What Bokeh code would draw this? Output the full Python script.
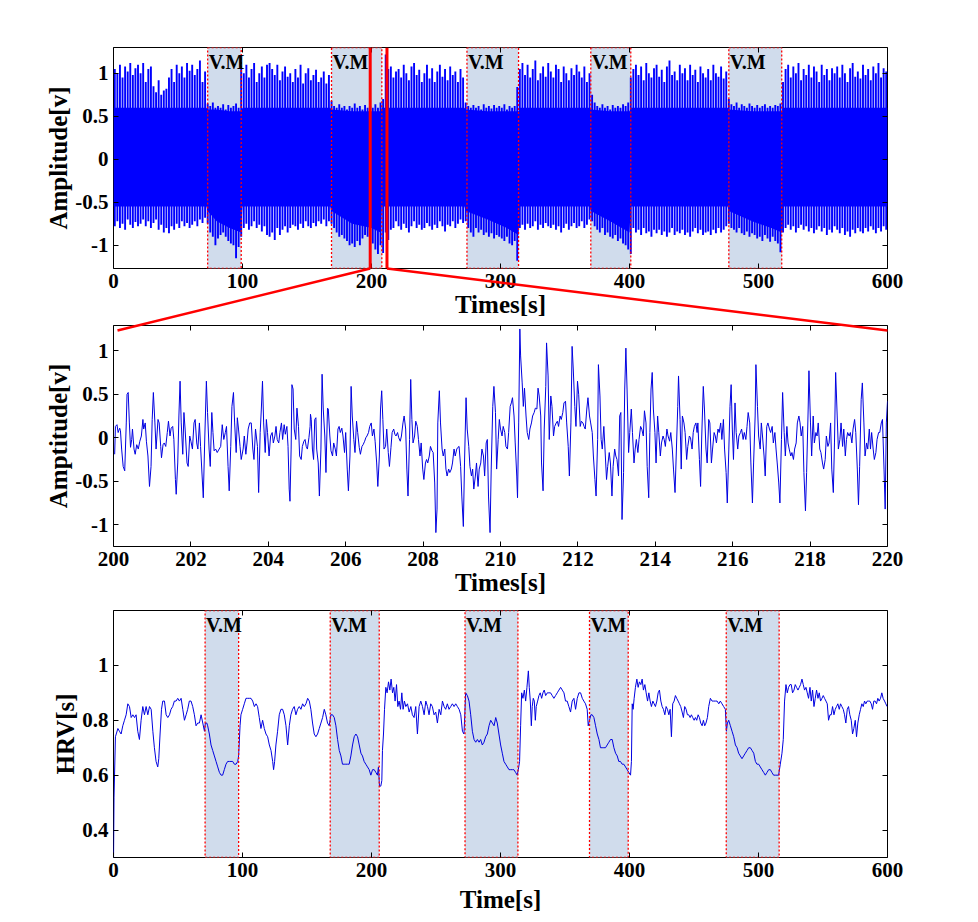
import numpy as np
from bokeh.plotting import figure
from bokeh.layouts import column
from bokeh.models import (FixedTicker, CustomJSTickFormatter, LinearAxis, Range1d, Span)
from bokeh.embed import file_html
from bokeh.resources import INLINE
from bokeh.core.properties import value

# ------------------------------------------------------------------ data
# Valsalva manoeuvre (V.M) intervals [s]
vm_start_ecg = [73, 169, 274, 370, 477]
vm_end_ecg = [99, 208, 314, 401, 518]
vm_start_hrv = [71, 168, 272.5, 369, 475]
vm_end_hrv = [97, 206, 313.5, 399, 516]
vm_label = ["V.M"] * 5

# zoomed window marked on the full recording [s]
zoom_window = [199, 212]

# full recording: one upper/lower peak read every 2 s
ecg_peak_hi = [
    1.05, 1.00, 1.10, 0.95, 1.08, 1.02, 1.12, 0.98, 1.06, 1.10,
    1.00, 1.12, 0.90, 1.05, 1.08, 0.85, 0.78, 0.92, 0.75, 0.80,
    0.82, 0.95, 1.05, 0.90, 1.10, 1.00, 1.08, 0.95, 1.12, 1.03,
    1.10, 0.98, 1.05, 1.15, 0.90, 1.02, 0.65, 0.62, 0.66, 0.60,
    0.62, 0.60, 0.64, 0.58, 0.63, 0.60, 0.62, 0.65, 0.60, 1.05,
    1.00, 1.10, 0.95, 1.05, 1.12, 0.90, 1.00, 1.08, 0.95, 1.10,
    1.12, 1.05, 0.98, 1.10, 0.92, 1.02, 1.08, 0.96, 1.00, 0.90,
    1.05, 0.95, 1.10, 0.88, 1.00, 1.06, 0.92, 0.98, 1.04, 0.90,
    0.95, 1.02, 0.88, 0.98, 0.68, 0.62, 0.60, 0.64, 0.60, 0.62,
    0.58, 0.62, 0.60, 0.65, 0.60, 0.62, 0.58, 0.63, 0.60, 0.62,
    0.60, 0.64, 0.60, 0.66, 0.70, 1.22, 1.05, 1.08, 0.95, 1.02,
    1.05, 0.95, 1.10, 1.00, 0.92, 1.08, 1.12, 0.98, 1.04, 0.90,
    1.00, 1.10, 0.94, 1.06, 0.90, 1.02, 1.10, 0.96, 1.05, 0.92,
    1.08, 0.98, 1.02, 0.90, 1.05, 0.95, 0.66, 0.62, 0.60, 0.63,
    0.60, 0.62, 0.58, 0.64, 0.60, 0.62, 0.59, 0.63, 0.60, 0.62,
    0.60, 0.64, 0.58, 0.62, 0.60, 0.62, 0.84, 1.05, 1.12, 0.98,
    1.10, 0.95, 1.05, 1.15, 0.92, 1.00, 1.08, 0.96, 1.12, 1.02,
    0.95, 1.10, 1.05, 0.90, 1.08, 1.00, 0.92, 1.06, 0.98, 1.10,
    1.02, 0.95, 1.08, 0.90, 1.00, 0.75, 0.66, 0.62, 0.60, 0.64,
    0.60, 0.62, 0.58, 0.63, 0.60, 0.62, 0.60, 0.64, 0.62, 0.66,
    0.95, 1.05, 1.10, 0.98, 1.08, 0.92, 1.12, 1.00, 0.95, 1.06,
    1.10, 0.96, 1.04, 0.90, 1.08, 1.15, 0.98, 1.02, 0.92, 1.10,
    1.00, 1.06, 0.92, 1.10, 0.98, 1.04, 0.90, 1.08, 1.00, 0.95,
    1.05, 0.92, 1.10, 1.00, 0.96, 1.08, 0.94, 1.02, 0.70, 0.64,
    0.62, 0.66, 0.60, 0.64, 0.62, 0.60, 0.65, 0.62, 0.60, 0.63,
    0.60, 0.62, 0.64, 0.60, 0.62, 0.60, 0.63, 0.62, 0.65, 0.90,
    1.05, 1.10, 0.95, 1.08, 1.00, 1.12, 0.92, 1.05, 0.98, 1.10,
    0.95, 1.08, 1.02, 0.90, 1.10, 0.98, 1.05, 0.92, 1.06, 1.00,
    1.08, 0.95, 1.10, 1.00, 0.90, 1.06, 1.12, 0.96, 1.02, 0.94,
    1.10, 0.98, 1.05, 0.92, 1.08, 1.00, 1.12, 0.95, 1.06, 1.02,
]
ecg_peak_lo = [
    -0.78, -0.72, -0.80, -0.75, -0.82, -0.70, -0.76, -0.80, -0.73, -0.78,
    -0.75, -0.70, -0.78, -0.72, -0.80, -0.74, -0.70, -0.82, -0.76, -0.85,
    -0.80, -0.86, -0.78, -0.82, -0.75, -0.80, -0.72, -0.78, -0.74, -0.80,
    -0.76, -0.72, -0.78, -0.70, -0.74, -0.68, -0.75, -0.85, -0.90, -1.00,
    -0.92, -0.88, -0.85, -0.90, -0.95, -0.98, -1.00, -1.15, -1.02, -0.90,
    -0.80, -0.75, -0.82, -0.78, -0.72, -0.80, -0.76, -0.84, -0.78, -0.88,
    -0.90, -0.85, -0.94, -0.80, -0.88, -0.82, -0.78, -0.85, -0.80, -0.76,
    -0.78, -0.82, -0.75, -0.80, -0.72, -0.78, -0.80, -0.74, -0.78, -0.72,
    -0.75, -0.70, -0.78, -0.72, -0.75, -0.80, -0.85, -0.90, -0.88, -0.92,
    -0.95, -1.00, -0.98, -1.02, -0.95, -1.00, -0.92, -0.88, -0.90, -0.94,
    -0.98, -1.05, -1.10, -1.00, -1.09, -0.85, -0.94, -0.82, -0.80, -0.72,
    -0.78, -0.82, -0.75, -0.80, -0.85, -0.78, -0.72, -0.80, -0.76, -0.82,
    -0.80, -0.74, -0.78, -0.82, -0.76, -0.80, -0.72, -0.78, -0.84, -0.76,
    -0.78, -0.72, -0.80, -0.75, -0.70, -0.74, -0.72, -0.80, -0.85, -0.90,
    -0.80, -0.85, -0.82, -0.88, -0.85, -0.90, -0.86, -0.92, -0.88, -0.90,
    -0.92, -0.95, -0.90, -0.98, -1.00, -0.95, -1.18, -0.80, -0.76, -0.82,
    -0.75, -0.80, -0.78, -0.72, -0.82, -0.76, -0.80, -0.74, -0.78, -0.80,
    -0.76, -0.82, -0.78, -0.85, -0.80, -0.75, -0.82, -0.78, -0.74, -0.80,
    -0.78, -0.72, -0.80, -0.76, -0.70, -0.72, -0.78, -0.82, -0.85, -0.80,
    -0.88, -0.85, -0.90, -0.92, -0.88, -0.95, -0.92, -0.98, -1.00, -1.05,
    -1.10, -0.80, -0.85, -0.82, -0.88, -0.80, -0.86, -0.84, -0.90, -0.82,
    -0.86, -0.82, -0.88, -0.84, -0.90, -0.85, -0.80, -0.88, -0.84, -0.86,
    -0.82, -0.88, -0.85, -0.90, -0.84, -0.80, -0.86, -0.82, -0.88, -0.85,
    -0.84, -0.88, -0.82, -0.86, -0.80, -0.85, -0.82, -0.78, -0.75, -0.80,
    -0.82, -0.85, -0.80, -0.86, -0.88, -0.84, -0.90, -0.86, -0.88, -0.92,
    -0.90, -0.95, -0.88, -0.92, -0.96, -0.90, -0.95, -0.98, -1.08, -0.85,
    -0.80, -0.76, -0.82, -0.78, -0.85, -0.80, -0.76, -0.82, -0.78, -0.84,
    -0.80, -0.86, -0.82, -0.78, -0.84, -0.80, -0.88, -0.82, -0.85, -0.78,
    -0.82, -0.86, -0.80, -0.88, -0.84, -0.90, -0.82, -0.86, -0.80, -0.84,
    -0.86, -0.80, -0.84, -0.78, -0.82, -0.86, -0.80, -0.84, -0.78, -0.82,
]
ecg_peak_t = np.arange(1, 600, 2)  # sample instants of the peak lists

# dense core of the full recording (envelope)
band_t = [0, 72, 73, 80, 90, 99, 100, 168, 169, 185, 200, 207, 208, 272, 273, 290,
          305, 314, 315, 369, 370, 385, 400, 401, 476, 477, 495, 510, 518, 519, 600]
band_hi = [0.60, 0.60, 0.58, 0.58, 0.56, 0.56, 0.60, 0.60, 0.58, 0.56, 0.56, 0.56,
           0.60, 0.60, 0.58, 0.56, 0.56, 0.56, 0.60, 0.60, 0.58, 0.56, 0.56, 0.60,
           0.60, 0.58, 0.56, 0.56, 0.56, 0.60, 0.60]
band_lo = [-0.55, -0.55, -0.60, -0.72, -0.80, -0.85, -0.55, -0.55, -0.60, -0.75,
           -0.80, -0.85, -0.55, -0.55, -0.60, -0.70, -0.80, -0.88, -0.55, -0.55,
           -0.60, -0.72, -0.85, -0.55, -0.55, -0.60, -0.72, -0.80, -0.85, -0.55, -0.55]

# zoomed segment 200-220 s: (time [s], amplitude [v])
mid_signal = [
    (200.03, -0.19), (200.05, 0.13), (200.09, 0.15), (200.12, 0.06), (200.16, 0.11), (200.18, 0.08),
    (200.21, -0.13), (200.25, -0.33), (200.29, -0.38), (200.33, 0.17), (200.35, 0.50), (200.38, 0.52),
    (200.41, 0.17), (200.44, -0.11), (200.47, -0.02), (200.49, 0.10), (200.53, -0.13), (200.56, -0.19),
    (200.60, -0.08), (200.64, -0.13), (200.68, -0.04), (200.72, 0.02), (200.76, 0.21), (200.78, 0.10),
    (200.82, 0.17), (200.85, -0.04), (200.89, -0.21), (200.93, -0.56), (200.97, -0.33), (201.00, 0.21),
    (201.03, 0.52), (201.07, 0.17), (201.10, -0.13), (201.15, 0.21), (201.18, 0.17), (201.22, -0.10),
    (201.24, -0.23), (201.28, -0.08), (201.31, -0.06), (201.35, -0.10), (201.39, 0.06), (201.42, 0.19),
    (201.46, 0.02), (201.49, 0.11), (201.53, 0.13), (201.56, -0.02), (201.60, -0.48), (201.62, -0.65),
    (201.66, -0.29), (201.69, 0.25), (201.72, 0.65), (201.75, 0.17), (201.79, -0.19), (201.82, 0.29),
    (201.85, 0.10), (201.90, -0.29), (201.93, -0.33), (201.97, 0.02), (202.00, -0.04), (202.04, -0.13),
    (202.08, 0.17), (202.11, 0.21), (202.15, -0.06), (202.18, -0.13), (202.22, 0.17), (202.25, -0.10),
    (202.29, -0.44), (202.32, -0.69), (202.36, 0.02), (202.40, 0.65), (202.43, 0.29), (202.47, -0.13),
    (202.50, -0.33), (202.54, 0.29), (202.57, 0.06), (202.60, -0.15), (202.64, -0.13), (202.68, -0.17),
    (202.73, -0.13), (202.77, -0.10), (202.81, 0.15), (202.85, -0.02), (202.89, 0.06), (202.92, 0.13),
    (202.96, -0.33), (202.99, -0.61), (203.03, -0.10), (203.06, 0.36), (203.10, 0.52), (203.13, 0.17),
    (203.17, -0.17), (203.20, 0.23), (203.23, 0.10), (203.27, -0.10), (203.30, -0.25), (203.35, -0.13),
    (203.38, 0.02), (203.42, -0.19), (203.45, -0.06), (203.48, 0.10), (203.52, 0.17), (203.56, 0.17),
    (203.60, -0.13), (203.63, -0.25), (203.67, 0.10), (203.72, -0.10), (203.75, -0.63), (203.79, 0.06),
    (203.82, 0.33), (203.85, 0.65), (203.88, 0.17), (203.92, -0.17), (203.95, 0.21), (203.98, 0.06),
    (204.02, -0.21), (204.06, 0.02), (204.10, 0.06), (204.13, -0.06), (204.17, 0.02), (204.20, 0.13),
    (204.23, -0.02), (204.27, -0.06), (204.30, 0.06), (204.34, 0.17), (204.37, -0.02), (204.41, 0.15),
    (204.44, 0.04), (204.48, 0.13), (204.51, -0.10), (204.54, -0.59), (204.56, -0.73), (204.59, -0.13),
    (204.61, 0.61), (204.64, 0.56), (204.67, 0.10), (204.71, -0.02), (204.74, 0.34), (204.78, 0.13),
    (204.81, -0.21), (204.85, -0.25), (204.88, -0.10), (204.92, -0.04), (204.95, -0.02), (204.98, -0.10),
    (205.01, -0.13), (205.05, 0.00), (205.08, 0.13),
    (205.09, 0.27), (205.11, 0.21), (205.14, -0.13), (205.17, -0.25), (205.20, 0.21), (205.23, 0.23),
    (205.25, -0.13), (205.29, -0.29), (205.32, -0.67), (205.36, -0.13), (205.39, 0.73), (205.42, 0.33),
    (205.46, 0.02), (205.49, -0.40), (205.53, 0.34), (205.55, 0.33), (205.59, 0.02), (205.62, -0.15),
    (205.66, -0.21), (205.69, -0.06), (205.73, -0.13), (205.76, -0.21), (205.80, 0.10), (205.83, 0.13),
    (205.86, 0.06), (205.90, 0.11), (205.93, 0.02), (205.97, -0.17), (206.00, 0.06), (206.04, -0.36),
    (206.07, -0.61), (206.11, -0.21), (206.14, 0.59), (206.17, 0.25), (206.21, -0.02), (206.24, -0.17),
    (206.28, 0.19), (206.31, 0.06), (206.35, -0.11), (206.38, -0.19), (206.42, -0.10), (206.45, -0.08),
    (206.49, -0.04), (206.52, 0.00), (206.55, 0.02), (206.59, 0.06), (206.62, 0.13), (206.66, 0.17),
    (206.69, 0.02), (206.73, 0.10), (206.76, -0.04), (206.80, -0.29), (206.83, -0.56), (206.87, -0.21),
    (206.90, 0.33), (206.93, 0.54), (206.96, 0.21), (206.99, -0.13), (207.03, -0.10), (207.06, 0.10),
    (207.10, -0.17), (207.13, -0.33), (207.17, -0.11), (207.20, 0.06), (207.24, 0.10), (207.27, 0.04),
    (207.30, 0.02), (207.34, 0.06), (207.37, 0.00), (207.41, -0.04), (207.44, 0.02), (207.48, 0.17),
    (207.51, 0.25), (207.55, 0.10), (207.58, -0.36), (207.61, -0.67), (207.65, -0.02), (207.68, 0.67),
    (207.71, 0.21), (207.74, -0.06), (207.78, 0.02), (207.81, 0.19), (207.85, 0.13), (207.88, -0.02),
    (207.92, -0.21), (207.95, -0.06), (207.99, -0.36), (208.02, -0.48), (208.06, -0.29), (208.09, -0.25),
    (208.12, -0.29), (208.16, -0.21), (208.19, -0.10), (208.23, -0.15), (208.26, -0.17), (208.30, -0.52),
    (208.33, -1.09), (208.36, -0.82), (208.38, 0.17), (208.42, 0.54), (208.45, 0.17), (208.49, -0.13),
    (208.52, -0.21), (208.56, -0.13), (208.59, -0.36), (208.62, -0.44), (208.66, -0.36), (208.69, -0.40),
    (208.73, -0.36), (208.76, -0.29), (208.80, -0.13), (208.83, -0.21), (208.87, -0.13), (208.90, -0.11),
    (208.93, -0.10), (208.97, -0.33), (209.00, -0.67), (209.04, -1.02), (209.07, -0.29), (209.11, 0.46),
    (209.14, 0.10), (209.18, -0.10), (209.21, -0.33), (209.25, -0.44), (209.28, -0.36), (209.31, -0.59),
    (209.35, -0.44), (209.38, -0.29), (209.42, -0.56), (209.45, -0.36), (209.49, -0.29), (209.52, -0.13),
    (209.56, -0.21), (209.59, -0.44), (209.63, -0.06), (209.66, -0.02), (209.69, -0.67), (209.73, -1.09),
    (209.76, -0.36), (209.80, 0.36), (209.83, 0.59), (209.87, 0.29), (209.90, -0.36), (209.94, -0.02),
    (209.97, 0.21), (210.00, 0.10), (210.04, 0.02), (210.07, 0.13),
    (210.11, 0.06), (210.14, -0.10), (210.18, -0.13), (210.21, 0.06), (210.25, 0.36), (210.28, 0.40),
    (210.31, 0.46), (210.35, 0.25), (210.38, -0.06), (210.42, -0.44), (210.44, -0.69), (210.47, 0.17),
    (210.50, 1.25), (210.52, 0.94), (210.56, 0.63), (210.59, 0.36), (210.62, 0.57), (210.66, 0.25),
    (210.69, 0.06), (210.73, -0.02), (210.76, 0.10), (210.80, 0.17), (210.83, 0.25), (210.87, 0.29),
    (210.90, 0.34), (210.94, 0.33), (210.97, 0.57), (211.00, 0.48), (211.04, 0.25), (211.06, -0.29),
    (211.10, -0.61), (211.13, 0.10), (211.17, 0.59), (211.19, 1.09), (211.23, 0.71), (211.26, -0.02),
    (211.30, 0.48), (211.33, 0.36), (211.37, 0.02), (211.40, 0.13), (211.44, 0.17), (211.47, 0.19),
    (211.50, 0.13), (211.54, 0.25), (211.57, 0.21), (211.61, 0.29), (211.64, 0.40), (211.68, 0.42),
    (211.71, 0.17), (211.75, -0.10), (211.78, -0.44), (211.82, 0.17), (211.85, 1.05), (211.88, 0.79),
    (211.92, 0.36), (211.95, 0.13), (211.99, 0.65), (212.02, 0.50), (212.06, 0.13), (212.09, 0.19),
    (212.13, 0.17), (212.16, 0.13), (212.19, 0.10), (212.23, 0.33), (212.26, 0.46), (212.30, 0.25),
    (212.33, 0.17), (212.37, 0.06), (212.40, -0.21), (212.44, -0.48), (212.47, -0.67), (212.51, -0.02),
    (212.53, 0.84), (212.57, 0.48), (212.60, -0.02), (212.63, -0.13), (212.67, 0.13), (212.70, -0.13),
    (212.74, -0.48), (212.77, -0.33), (212.81, -0.17), (212.84, -0.29), (212.88, -0.67), (212.91, -0.33),
    (212.95, -0.13), (212.98, -0.21), (213.01, -0.25), (213.05, -0.44), (213.08, 0.25), (213.11, 0.29),
    (213.14, -0.94), (213.18, -0.40), (213.21, 0.56), (213.24, 1.03), (213.27, 0.56), (213.31, -0.17),
    (213.34, 0.06), (213.38, 0.33), (213.41, 0.06), (213.45, -0.29), (213.48, -0.13), (213.51, -0.02),
    (213.55, -0.17), (213.58, -0.02), (213.62, 0.13), (213.65, 0.10), (213.69, 0.02), (213.72, 0.31),
    (213.76, 0.17), (213.79, -0.33), (213.83, -0.69), (213.86, 0.06), (213.89, 0.56), (213.92, 0.75),
    (213.95, 0.33), (213.99, 0.06), (214.02, -0.29), (214.06, 0.25), (214.09, 0.06), (214.13, -0.21),
    (214.16, -0.06), (214.20, 0.02), (214.23, -0.02), (214.26, -0.10), (214.30, 0.10), (214.33, 0.02),
    (214.37, -0.04), (214.40, 0.06), (214.44, -0.13), (214.47, -0.36), (214.51, -0.63), (214.54, -0.21),
    (214.58, 0.36), (214.60, 0.71), (214.64, 0.21), (214.67, -0.36), (214.70, 0.25), (214.74, 0.17),
    (214.77, 0.06), (214.81, -0.25), (214.84, -0.10), (214.88, 0.02), (214.91, 0.00), (214.95, -0.13),
    (214.98, 0.06), (215.01, 0.13), (215.05, 0.17), (215.08, 0.06),
    (215.10, 0.17), (215.14, -0.25), (215.17, -0.56), (215.20, 0.02), (215.24, 0.59), (215.27, 0.33),
    (215.31, -0.13), (215.34, -0.29), (215.38, 0.21), (215.41, 0.17), (215.45, -0.29), (215.48, -0.13),
    (215.52, 0.06), (215.55, 0.02), (215.58, -0.06), (215.62, 0.10), (215.65, 0.06), (215.69, 0.17),
    (215.72, -0.02), (215.76, 0.21), (215.79, -0.13), (215.83, -0.40), (215.86, -0.75), (215.90, -0.13),
    (215.93, 0.36), (215.96, 0.61), (215.99, 0.10), (216.02, -0.25), (216.06, 0.40), (216.09, 0.06),
    (216.13, -0.13), (216.16, 0.02), (216.20, 0.06), (216.23, 0.10), (216.27, -0.02), (216.30, 0.06),
    (216.34, -0.02), (216.37, 0.13), (216.40, 0.29), (216.44, 0.17), (216.47, -0.29), (216.51, -0.75),
    (216.54, -0.29), (216.58, 0.25), (216.60, 0.84), (216.64, 0.36), (216.67, 0.02), (216.71, -0.13),
    (216.74, 0.17), (216.77, 0.02), (216.81, -0.21), (216.84, -0.44), (216.88, 0.13), (216.91, 0.17),
    (216.95, 0.10), (216.98, 0.06), (217.02, 0.13), (217.05, -0.06), (217.09, 0.06), (217.12, -0.13),
    (217.15, -0.29), (217.19, -0.52), (217.22, -0.75), (217.26, -0.02), (217.29, 0.52), (217.33, 0.06),
    (217.36, -0.21), (217.40, 0.13), (217.43, -0.06), (217.46, -0.13), (217.50, -0.21), (217.53, -0.17),
    (217.57, -0.25), (217.60, -0.13), (217.64, -0.06), (217.67, 0.17), (217.71, 0.25), (217.74, 0.17),
    (217.77, 0.02), (217.81, 0.13), (217.84, -0.40), (217.88, -0.84), (217.91, -0.40), (217.95, 0.33),
    (217.97, 0.77), (218.01, 0.17), (218.04, -0.21), (218.08, 0.25), (218.11, -0.06), (218.15, 0.06),
    (218.18, 0.02), (218.21, 0.17), (218.25, -0.13), (218.28, -0.17), (218.32, -0.29), (218.35, -0.36),
    (218.39, -0.25), (218.42, 0.02), (218.46, -0.10), (218.49, -0.06), (218.53, 0.17), (218.56, -0.36),
    (218.60, -0.63), (218.63, -0.06), (218.66, 0.75), (218.70, 0.25), (218.73, -0.13), (218.77, -0.02),
    (218.80, 0.17), (218.84, -0.10), (218.87, 0.10), (218.91, -0.21), (218.94, -0.02), (218.97, 0.06),
    (219.01, 0.02), (219.04, 0.06), (219.08, -0.06), (219.11, 0.10), (219.15, 0.21), (219.18, 0.06),
    (219.22, -0.36), (219.25, -0.77), (219.28, -0.33), (219.32, 0.44), (219.35, 0.63), (219.39, 0.17),
    (219.42, -0.21), (219.46, -0.06), (219.49, -0.13), (219.53, 0.10), (219.56, -0.13), (219.59, 0.06),
    (219.63, -0.13), (219.66, -0.25), (219.70, -0.17), (219.73, -0.02), (219.77, 0.06), (219.80, 0.06),
    (219.84, 0.17), (219.87, 0.21), (219.91, -0.36), (219.94, -0.82), (219.97, 0.17), (220.00, 0.42),
]

# heart-rate variability: (time [s], RR interval [s])
hrv_series = [
    (0.0, 0.28), (0.4, 0.52), (1.5, 0.74), (3.4, 0.77), (4.6, 0.76), (5.9, 0.75), (7.2, 0.78),
    (8.5, 0.80), (9.8, 0.82), (11.1, 0.86), (12.4, 0.85), (13.7, 0.81), (15.0, 0.82), (16.3, 0.81),
    (17.5, 0.82), (18.8, 0.76), (20.1, 0.73), (21.4, 0.80), (22.7, 0.85), (24.0, 0.82), (25.3, 0.85),
    (26.6, 0.82), (27.9, 0.85), (29.2, 0.84), (30.5, 0.76), (31.7, 0.70), (33.0, 0.65), (34.3, 0.63),
    (35.1, 0.66), (36.1, 0.75), (37.2, 0.84), (38.2, 0.87), (39.5, 0.87), (40.8, 0.82), (42.1, 0.81),
    (43.4, 0.82), (44.6, 0.84), (45.9, 0.85), (47.2, 0.87), (48.5, 0.87), (49.8, 0.88), (51.1, 0.87),
    (52.4, 0.88), (53.7, 0.84), (55.0, 0.80), (56.3, 0.82), (57.5, 0.84), (58.8, 0.87), (60.1, 0.87),
    (61.4, 0.85), (62.7, 0.82), (64.0, 0.78), (65.3, 0.79), (66.6, 0.79), (67.9, 0.82), (69.2, 0.79),
    (70.5, 0.76), (71.2, 0.79), (72.3, 0.79), (73.0, 0.78), (74.3, 0.75), (75.6, 0.71), (76.9, 0.69),
    (78.2, 0.67), (79.5, 0.65), (80.8, 0.63), (82.1, 0.61), (83.4, 0.60), (84.6, 0.60), (85.9, 0.62),
    (87.2, 0.64), (88.5, 0.65), (89.8, 0.65), (91.1, 0.65), (92.4, 0.65), (93.7, 0.64), (95.0, 0.64),
    (96.3, 0.65), (97.0, 0.67), (98.1, 0.78), (98.8, 0.82), (100.1, 0.84), (101.4, 0.86), (102.7, 0.88),
    (104.0, 0.88), (105.3, 0.88), (106.6, 0.88), (107.9, 0.87), (109.2, 0.85), (110.5, 0.86), (111.7, 0.85),
    (113.0, 0.81), (114.3, 0.77), (115.6, 0.80), (116.9, 0.77), (118.2, 0.75), (119.5, 0.74), (120.8, 0.71),
    (122.1, 0.69), (123.4, 0.65), (124.1, 0.62), (124.9, 0.65), (125.9, 0.71), (127.2, 0.76), (128.5, 0.82),
    (129.8, 0.84), (131.1, 0.84), (132.4, 0.82), (133.7, 0.78), (135.0, 0.71), (136.3, 0.78), (137.5, 0.82),
    (138.8, 0.84), (140.1, 0.85), (141.4, 0.82), (142.7, 0.84), (144.0, 0.85), (145.3, 0.84), (146.6, 0.86),
    (147.9, 0.85), (149.2, 0.86), (150.5, 0.88), (151.8, 0.87), (153.0, 0.84), (154.3, 0.79), (155.6, 0.75),
    (156.9, 0.74), (158.2, 0.75), (159.5, 0.77), (160.8, 0.79), (162.1, 0.81), (163.4, 0.84), (164.6, 0.82),
    (165.9, 0.79), (167.2, 0.78), (168.5, 0.82), (169.8, 0.82), (171.1, 0.81), (172.4, 0.78), (173.7, 0.73),
    (175.0, 0.69), (176.3, 0.67), (177.5, 0.64), (178.8, 0.64), (180.1, 0.64), (181.4, 0.64), (182.7, 0.64),
    (184.0, 0.67), (185.3, 0.71), (186.6, 0.74), (187.9, 0.75), (189.2, 0.74), (190.5, 0.71), (191.8, 0.68),
    (193.0, 0.67), (194.3, 0.65), (195.6, 0.64), (196.9, 0.63), (198.2, 0.62), (199.5, 0.60), (200.8, 0.62),
    (202.1, 0.62), (203.4, 0.61), (204.6, 0.60), (205.4, 0.63), (206.2, 0.56), (207.2, 0.56), (208.0, 0.58),
    (208.5, 0.69), (209.3, 0.75), (210.1, 0.84), (211.1, 0.92), (212.1, 0.90), (213.2, 0.94), (214.2, 0.91),
    (215.2, 0.95), (216.3, 0.90), (217.3, 0.92), (218.3, 0.87), (219.4, 0.93), (220.4, 0.85), (221.4, 0.87),
    (222.5, 0.84), (223.5, 0.90), (224.5, 0.84), (225.5, 0.87), (226.6, 0.85), (227.9, 0.86), (229.2, 0.83),
    (230.5, 0.85), (231.7, 0.82), (233.0, 0.81), (234.3, 0.85), (235.6, 0.75), (236.9, 0.85), (238.2, 0.87),
    (239.5, 0.85), (240.8, 0.82), (242.1, 0.87), (243.4, 0.85), (244.6, 0.82), (245.9, 0.86), (247.2, 0.85),
    (248.5, 0.82), (249.8, 0.83), (251.1, 0.79), (252.4, 0.84), (253.7, 0.82), (255.0, 0.87), (256.3, 0.85),
    (257.5, 0.84), (258.8, 0.86), (260.1, 0.84), (261.4, 0.85), (262.7, 0.86), (264.0, 0.85), (265.3, 0.86),
    (266.6, 0.85), (267.9, 0.84), (269.2, 0.82), (270.5, 0.76), (271.7, 0.75), (273.0, 0.90), (274.3, 0.89),
    (275.6, 0.87), (276.9, 0.82), (278.2, 0.76), (279.5, 0.73), (280.8, 0.72), (282.1, 0.73), (283.4, 0.72),
    (284.6, 0.73), (285.9, 0.71), (287.2, 0.72), (288.5, 0.74), (289.8, 0.75), (291.1, 0.78), (292.4, 0.80),
    (293.7, 0.79), (295.0, 0.78), (296.3, 0.81), (297.5, 0.79), (298.8, 0.75), (300.1, 0.71), (301.4, 0.68),
    (302.7, 0.65), (304.0, 0.64), (305.3, 0.63), (306.6, 0.62), (307.9, 0.62), (309.2, 0.62), (310.4, 0.62),
    (311.7, 0.61), (313.0, 0.60), (313.8, 0.62), (314.8, 0.65), (315.6, 0.78), (316.4, 0.90), (317.4, 0.88),
    (318.5, 0.91), (319.5, 0.87), (320.5, 0.92), (321.6, 0.98), (322.3, 0.92), (323.1, 0.87), (323.9, 0.78),
    (324.6, 0.85), (325.4, 0.88), (326.2, 0.87), (327.0, 0.80), (327.7, 0.85), (328.8, 0.87), (329.8, 0.89),
    (330.8, 0.90), (331.9, 0.88), (332.9, 0.90), (333.9, 0.91), (335.0, 0.89), (336.3, 0.90), (337.5, 0.90),
    (338.8, 0.90), (340.1, 0.89), (341.4, 0.88), (342.7, 0.89), (344.0, 0.90), (345.3, 0.91), (346.6, 0.92),
    (347.9, 0.91), (349.2, 0.90), (350.4, 0.87), (351.7, 0.87), (353.0, 0.85), (354.3, 0.83), (355.6, 0.87),
    (356.9, 0.88), (358.2, 0.84), (359.5, 0.88), (360.8, 0.90), (362.1, 0.90), (363.4, 0.88), (364.6, 0.87),
    (365.9, 0.86), (367.2, 0.84), (368.0, 0.78), (369.0, 0.80), (370.1, 0.82), (371.1, 0.82), (372.4, 0.81),
    (373.7, 0.78), (375.0, 0.75), (376.3, 0.73), (377.5, 0.70), (378.8, 0.70), (380.1, 0.70), (381.4, 0.70),
    (382.7, 0.71), (384.0, 0.72), (385.3, 0.73), (386.6, 0.73), (387.9, 0.70), (389.2, 0.68), (390.5, 0.67),
    (391.7, 0.65), (393.0, 0.65), (394.3, 0.64), (395.6, 0.64), (396.9, 0.63), (398.2, 0.62), (399.5, 0.61),
    (400.8, 0.60), (401.5, 0.65), (402.1, 0.86), (402.8, 0.84), (403.6, 0.88), (404.6, 0.92), (405.7, 0.95),
    (406.7, 0.92), (407.7, 0.94), (408.8, 0.93), (409.8, 0.95), (410.8, 0.91), (411.9, 0.93), (412.9, 0.90),
    (414.0, 0.87), (415.0, 0.90), (416.0, 0.87), (417.0, 0.85), (418.1, 0.87), (419.1, 0.86), (420.1, 0.85),
    (421.2, 0.87), (422.2, 0.90), (423.2, 0.91), (424.3, 0.87), (425.3, 0.85), (426.3, 0.84), (427.4, 0.82),
    (428.4, 0.85), (429.4, 0.84), (430.5, 0.82), (431.5, 0.84), (432.5, 0.74), (433.5, 0.86), (434.6, 0.87),
    (435.6, 0.89), (436.6, 0.88), (437.7, 0.87), (438.7, 0.86), (439.7, 0.85), (440.8, 0.83), (441.8, 0.81),
    (442.8, 0.85), (443.9, 0.84), (444.9, 0.82), (445.9, 0.82), (447.0, 0.81), (448.0, 0.82), (449.0, 0.81),
    (450.1, 0.80), (451.1, 0.81), (452.1, 0.80), (453.2, 0.82), (454.2, 0.81), (455.2, 0.79), (456.3, 0.78),
    (457.3, 0.80), (458.3, 0.78), (459.3, 0.79), (460.4, 0.81), (461.4, 0.85), (462.7, 0.88), (464.0, 0.87),
    (465.3, 0.87), (466.6, 0.87), (467.9, 0.87), (469.2, 0.86), (470.4, 0.87), (471.7, 0.86), (473.0, 0.85),
    (474.3, 0.84), (475.1, 0.76), (475.9, 0.79), (476.9, 0.80), (478.2, 0.78), (479.5, 0.76), (480.8, 0.74),
    (482.1, 0.71), (483.4, 0.70), (484.6, 0.68), (485.9, 0.67), (487.2, 0.66), (488.5, 0.67), (489.8, 0.68),
    (491.1, 0.69), (492.4, 0.70), (493.7, 0.70), (495.0, 0.69), (496.3, 0.68), (497.6, 0.65), (498.8, 0.64),
    (500.1, 0.64), (501.4, 0.63), (502.7, 0.62), (504.0, 0.61), (505.3, 0.60), (506.6, 0.61), (507.9, 0.62),
    (509.2, 0.62), (510.4, 0.61), (511.7, 0.60), (513.0, 0.60), (514.3, 0.60), (515.6, 0.60), (516.9, 0.64),
    (518.2, 0.68), (519.2, 0.73), (520.2, 0.87), (521.3, 0.93), (522.3, 0.90), (523.3, 0.92), (524.4, 0.93),
    (525.4, 0.93), (526.4, 0.90), (527.5, 0.91), (528.5, 0.93), (529.5, 0.92), (530.6, 0.91), (531.6, 0.92),
    (532.6, 0.93), (533.7, 0.95), (534.7, 0.93), (535.7, 0.91), (536.8, 0.92), (537.8, 0.90), (538.8, 0.88),
    (539.9, 0.92), (540.9, 0.87), (541.9, 0.91), (543.0, 0.85), (544.0, 0.88), (545.0, 0.91), (546.1, 0.88),
    (547.1, 0.90), (548.1, 0.87), (549.2, 0.88), (550.2, 0.89), (551.2, 0.88), (552.3, 0.87), (553.3, 0.86),
    (554.3, 0.80), (555.4, 0.82), (556.4, 0.82), (557.4, 0.85), (558.5, 0.82), (559.5, 0.84), (560.5, 0.85),
    (561.5, 0.86), (562.6, 0.84), (563.6, 0.86), (564.6, 0.85), (565.7, 0.84), (566.7, 0.82), (567.7, 0.79),
    (568.8, 0.84), (569.8, 0.85), (570.8, 0.82), (571.9, 0.80), (572.9, 0.75), (573.9, 0.77), (575.0, 0.80),
    (576.0, 0.74), (577.0, 0.79), (578.1, 0.82), (579.1, 0.84), (580.1, 0.86), (581.2, 0.85), (582.2, 0.87),
    (583.2, 0.86), (584.3, 0.87), (585.3, 0.87), (586.3, 0.87), (587.4, 0.86), (588.4, 0.84), (589.4, 0.87),
    (590.4, 0.87), (591.5, 0.86), (592.5, 0.88), (593.5, 0.87), (594.6, 0.88), (595.6, 0.90), (596.6, 0.88),
    (597.7, 0.87), (598.7, 0.86), (599.7, 0.85),
]

# ticks
top_xticks = [0, 100, 200, 300, 400, 500, 600]
amp_yticks = [-1, -0.5, 0, 0.5, 1]
mid_xticks = [200, 202, 204, 206, 208, 210, 212, 214, 216, 218, 220]
hrv_yticks = [0.4, 0.6, 0.8, 1]

# ------------------------------------------------------------------ layout
FONT = "Liberation Serif"
FRAME_W = 774
B_LEFT, B_RIGHT = 113, 21
TOP_H, MID_H, BOT_H = 221, 221, 247
TOP_BT, TOP_BB = 47, 56
MID_BT, MID_BB = 1, 56
BOT_BT, BOT_BB = 8, 62

TOP_Y = (-1.27, 1.30)
MID_Y = (-1.25, 1.29)
BOT_Y = (0.30, 1.20)

BLUE = "#0000ff"
LINE_BLUE = "#0000e0"
SHADE = "#d0dcec"


def make_fig(xr, yr, fh, bt, bb):
    p = figure(frame_width=FRAME_W, frame_height=fh,
               x_range=Range1d(*xr), y_range=Range1d(*yr),
               output_backend="svg", toolbar_location=None,
               min_border_left=B_LEFT, min_border_right=B_RIGHT,
               min_border_top=bt, min_border_bottom=bb)
    p.grid.visible = False
    p.outline_line_color = "black"
    p.outline_line_width = 1
    p.outline_line_alpha = 1
    p.background_fill_color = "white"
    p.border_fill_color = "white"
    return p


def style_axes(p, xticks, yticks, xlabel, ylabel, xlabel_standoff=0):
    fmt = CustomJSTickFormatter(code="return tick.toString();")
    xa, ya = p.below[0], p.left[0]
    for ax, ticks in ((xa, xticks), (ya, yticks)):
        ax.ticker = FixedTicker(ticks=ticks)
        ax.formatter = fmt
        ax.major_tick_in = 5
        ax.major_tick_out = 0
        ax.minor_tick_in = 0
        ax.minor_tick_out = 0
        ax.axis_line_color = None
        ax.major_tick_line_color = "black"
        ax.major_label_text_font = FONT
        ax.major_label_text_font_style = "bold"
        ax.major_label_text_font_size = "21px"
        ax.major_label_text_color = "black"
        ax.major_label_standoff = 5
        ax.axis_label_text_font = FONT
        ax.axis_label_text_font_style = "bold"
        ax.axis_label_text_font_size = "25px"
        ax.axis_label_text_color = "black"
        ax.axis_label_standoff = 0
    xa.axis_label_standoff = xlabel_standoff
    xa.axis_label = xlabel
    ya.axis_label = ylabel
    # mirrored inward ticks on the top and right edges (no labels drawn)
    for loc, ticks in (("above", xticks), ("right", yticks)):
        ax = LinearAxis(ticker=FixedTicker(ticks=ticks), formatter=fmt,
                        major_label_text_font_size="1px", major_label_text_color=None,
                        major_label_standoff=0, major_tick_in=5, major_tick_out=0,
                        minor_tick_in=0, minor_tick_out=0, axis_line_color=None,
                        major_tick_line_color="black")
        p.add_layout(ax, loc)


def vm_boxes(p, starts, ends, yr):
    p.quad(left=starts, right=ends, bottom=yr[0], top=yr[1],
           fill_color=SHADE, line_color=None, level="underlay")


def vm_borders(p, starts, ends, yr):
    p.quad(left=starts, right=ends, bottom=yr[0], top=yr[1],
           fill_color=None, line_color="red", line_dash="2 2", line_width=1.3)
    p.text(x=starts, y=[yr[1]] * len(starts), text=vm_label,
           text_font=value(FONT), text_font_style="bold", text_font_size="20px",
           text_baseline="top", text_align="left", x_offset=1, y_offset=3,
           text_color="black")


# ---- panel 1: full recording
p1 = make_fig((0, 600), TOP_Y, TOP_H, TOP_BT, TOP_BB)
vm_boxes(p1, vm_start_ecg, vm_end_ecg, TOP_Y)
p1.varea(x=band_t, y1=band_lo, y2=band_hi, fill_color=BLUE)
p1.segment(x0=ecg_peak_t, y0=ecg_peak_lo, x1=ecg_peak_t, y1=ecg_peak_hi,
           line_color=BLUE, line_width=1.9)
vm_borders(p1, vm_start_ecg, vm_end_ecg, TOP_Y)
for loc in zoom_window:
    p1.add_layout(Span(location=loc, dimension="height", line_color="red", line_width=3))
style_axes(p1, top_xticks, amp_yticks, "Times[s]", "Amplitude[v]")

# ---- panel 2: zoomed segment
mid_t = [t for t, _ in mid_signal]
mid_v = [v for _, v in mid_signal]
p2 = make_fig((200, 220), MID_Y, MID_H, MID_BT, MID_BB)
p2.line(mid_t, mid_v, line_color=LINE_BLUE, line_width=1)
style_axes(p2, mid_xticks, amp_yticks, "Times[s]", "Amptitude[v]")

# ---- connector lines (zoom effect) between panel 1 and panel 2
gap = TOP_BB + MID_BT            # px between the two frames
drop = 5                          # px below panel-2 frame top
inset = 4                         # px right of panel-2 frame left
sx1 = 600 / FRAME_W
sy1 = (TOP_Y[1] - TOP_Y[0]) / TOP_H
sx2 = 20 / FRAME_W
sy2 = (MID_Y[1] - MID_Y[0]) / MID_H
y1_low = TOP_Y[0] - (gap + drop) * sy1
y2_high = MID_Y[1] + gap * sy2
y2_low = MID_Y[1] - drop * sy2
ends1 = [inset * sx1, 600]
ends2 = [200 + inset * sx2, 220]
for k in range(2):
    p1.line([zoom_window[k], ends1[k]], [TOP_Y[0], y1_low], line_color="red",
            line_width=2.5, level="overlay")
    p2.line([200 + zoom_window[k] / 600 * 20, ends2[k]], [y2_high, y2_low],
            line_color="red", line_width=2.5, level="overlay")

# ---- panel 3: HRV
hrv_t = [t for t, _ in hrv_series]
hrv_v = [v for _, v in hrv_series]
p3 = make_fig((0, 600), BOT_Y, BOT_H, BOT_BT, BOT_BB)
vm_boxes(p3, vm_start_hrv, vm_end_hrv, BOT_Y)
p3.line(hrv_t, hrv_v, line_color=LINE_BLUE, line_width=1)
vm_borders(p3, vm_start_hrv, vm_end_hrv, BOT_Y)
style_axes(p3, top_xticks, hrv_yticks, "Time[s]", "HRV[s]", xlabel_standoff=6)

layout = column(p1, p2, p3, spacing=0)
open("out.html", "w").write(file_html(layout, INLINE))
